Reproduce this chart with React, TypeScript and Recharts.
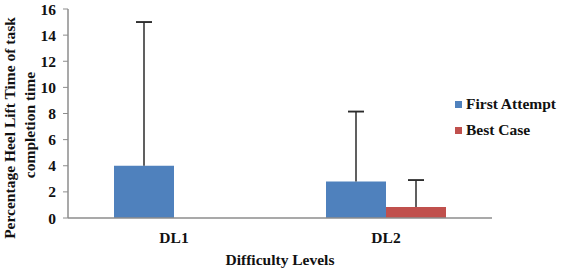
import React from "react";
import { BarChart, Bar, XAxis, YAxis, ErrorBar, Legend } from "recharts";

const categories = ["DL1", "DL2"];
const firstAttempt = [4.0, 2.8];
const bestCase = [0, 0.85];
const firstAttemptErr = [11.0, 5.35];
const bestCaseErr: (number | null)[] = [null, 2.05];
const yTicks = [0, 2, 4, 6, 8, 10, 12, 14, 16];

const data = categories.map((c, i) => ({
  name: c,
  idx: i + 0.5,
  first: firstAttempt[i],
  best: bestCase[i],
  firstStem: [0, firstAttemptErr[i]],
  firstCap: [-firstAttemptErr[i], firstAttemptErr[i]],
  bestStem: bestCaseErr[i] == null ? null : [0, bestCaseErr[i] as number],
  bestCap: bestCaseErr[i] == null ? null : [-(bestCaseErr[i] as number), bestCaseErr[i] as number],
}));

const FONT = "Liberation Serif";
const FS = 15.5;
const AXIS_COLOR = "#8c8c8c";
const BLUE = "#4F81BD";
const RED = "#C0504D";
const ERR = "#2b2b2b";
const TEXT = "#111";

const legendItems = [
  { label: "First Attempt", color: BLUE },
  { label: "Best Case", color: RED },
];

const renderLegend = () => (
  <div style={{ fontFamily: FONT, fontWeight: "bold", fontSize: FS, color: TEXT, lineHeight: 1 }}>
    {legendItems.map((it) => (
      <div key={it.label} style={{ display: "flex", alignItems: "center", height: 26 }}>
        <span style={{ display: "inline-block", width: 7, height: 7, background: it.color, marginRight: 4 }} />
        <span style={{ fontFamily: FONT }}>{it.label}</span>
      </div>
    ))}
  </div>
);

const YTick = (props: any) => {
  const { x, y, payload } = props;
  return (
    <text x={x} y={y} textAnchor="end" dominantBaseline="central" fontFamily={FONT} fontWeight="bold" fontSize={FS} fill={TEXT}>
      {payload.value}
    </text>
  );
};

const XTick = (props: any) => {
  const { x, y, payload } = props;
  return (
    <text x={x} y={y + 5} textAnchor="middle" dominantBaseline="central" fontFamily={FONT} fontWeight="bold" fontSize={FS} fill={TEXT}>
      {payload.value}
    </text>
  );
};

const YLabel = () => (
  <g>
    <text transform="translate(9, 128) rotate(-90)" x={0} y={0} textAnchor="middle" dominantBaseline="central"
      fontFamily={FONT} fontWeight="bold" fontSize={FS} fill={TEXT}>
      Percentage Heel Lift Time of task
    </text>
    <text transform="translate(29, 125) rotate(-90)" x={0} y={0} textAnchor="middle" dominantBaseline="central"
      fontFamily={FONT} fontWeight="bold" fontSize={FS} fill={TEXT}>
      completion time
    </text>
  </g>
);

const XLabel = (props: any) => {
  const vb = props.viewBox || {};
  const cx = (vb.x ?? 0) + (vb.width ?? 0) / 2;
  return (
    <text x={cx} y={259} textAnchor="middle" dominantBaseline="central" fontFamily={FONT} fontWeight="bold" fontSize={FS} fill={TEXT}>
      Difficulty Levels
    </text>
  );
};

export default function App() {
  return (
    <div style={{ position: "absolute", left: 0, top: 0, width: 561, height: 269, background: "#fff", fontFamily: FONT }}>
      <BarChart
        width={561}
        height={269}
        data={data}
        margin={{ top: 9, right: 69, bottom: 0, left: 0 }}
        barGap={0}
        barSize={60}
        style={{ fontFamily: FONT }}
      >
        <XAxis
          xAxisId="ticks"
          type="number"
          dataKey="idx"
          domain={[0, 2]}
          ticks={[0, 1, 2]}
          height={0}
          tick={false}
          axisLine={false}
          tickLine={{ stroke: AXIS_COLOR }}
          tickSize={4}
        />
        <XAxis
          dataKey="name"
          height={51}
          axisLine={{ stroke: AXIS_COLOR, strokeWidth: 1.5 }}
          tickLine={false}
          tickSize={0}
          tickMargin={14}
          tick={<XTick />}
          label={<XLabel />}
        />
        <YAxis
          domain={[0, 16]}
          ticks={yTicks}
          interval={0}
          width={68}
          axisLine={{ stroke: AXIS_COLOR, strokeWidth: 1.5 }}
          tickLine={{ stroke: AXIS_COLOR }}
          tickSize={5}
          tickMargin={7}
          tick={<YTick />}
          label={<YLabel />}
        />
        <Legend
          layout="vertical"
          align="center"
          verticalAlign="middle"
          content={renderLegend}
          wrapperStyle={{ left: 455, top: 91, width: 110 }}
        />
        <Bar dataKey="first" name="First Attempt" fill={BLUE} isAnimationActive={false}>
          <ErrorBar dataKey="firstStem" width={0} stroke={ERR} strokeWidth={1.5} direction="y" />
          <ErrorBar dataKey="firstCap" width={8} stroke={ERR} strokeWidth={1.5} direction="y" />
        </Bar>
        <Bar dataKey="best" name="Best Case" fill={RED} isAnimationActive={false}>
          <ErrorBar dataKey="bestStem" width={0} stroke={ERR} strokeWidth={1.5} direction="y" />
          <ErrorBar dataKey="bestCap" width={8} stroke={ERR} strokeWidth={1.5} direction="y" />
        </Bar>
      </BarChart>
    </div>
  );
}
